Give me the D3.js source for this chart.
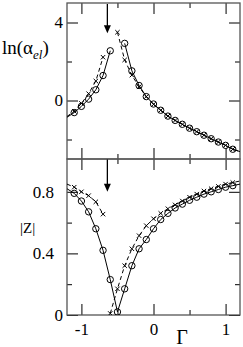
<!DOCTYPE html>
<html>
<head>
<meta charset="utf-8">
<script src="https://cdn.jsdelivr.net/npm/d3@7"></script>
<style>
  body { margin: 0; background: #fff; }
  svg text { font-family: "Liberation Serif", "Times New Roman", "DejaVu Serif", serif !important; fill: #000; }
</style>
</head>
<body>
<script>
// values (Gamma on x, markers every 0.1, lines run to the frame edge)
var gammaTopCircL = [-1.2, -1.1, -1.0, -0.9, -0.8, -0.7, -0.6];
var lnAlphaCircL  = [-0.86, -0.62, -0.3, 0.07, 0.55, 1.28, 2.55];
var gammaTopCircR = [-0.4, -0.3, -0.2, -0.1, 0, 0.1, 0.2, 0.3, 0.4, 0.5, 0.6, 0.7, 0.8, 0.9, 1.0, 1.1, 1.2];
var lnAlphaCircR  = [2.93, 1.52, 0.77, 0.2, -0.18, -0.5, -0.8, -1.02, -1.22, -1.42, -1.6, -1.78, -1.96, -2.13, -2.3, -2.5, -2.62];
var gammaTopCrossL = [-1.2, -1.1, -1.0, -0.9, -0.8, -0.7];
var lnAlphaCrossL  = [-0.82, -0.55, -0.15, 0.35, 1.0, 2.22];
var gammaTopCrossR = [-0.5, -0.4, -0.3, -0.2, -0.1, 0, 0.1, 0.2, 0.3, 0.4, 0.5, 0.6, 0.7, 0.8, 0.9, 1.0, 1.1, 1.2];
var lnAlphaCrossR  = [3.5, 2.08, 1.3, 0.7, 0.2, -0.2, -0.5, -0.8, -1.02, -1.22, -1.42, -1.6, -1.78, -1.96, -2.13, -2.3, -2.5, -2.62];

var gammaBotCirc = [-1.2, -1.1, -1.0, -0.9, -0.8, -0.7, -0.6, -0.5, -0.4, -0.3, -0.2, -0.1, 0, 0.1, 0.2, 0.3, 0.4, 0.5, 0.6, 0.7, 0.8, 0.9, 1.0, 1.1, 1.2];
var zCirc        = [0.82, 0.79, 0.74, 0.67, 0.56, 0.42, 0.23, 0.02, 0.17, 0.32, 0.43, 0.49, 0.56, 0.62, 0.66, 0.695, 0.72, 0.745, 0.765, 0.785, 0.8, 0.815, 0.83, 0.84, 0.85];
var gammaBotCrossL = [-1.2, -1.1, -1.0, -0.9, -0.8, -0.7];
var zCrossL        = [0.85, 0.83, 0.8, 0.775, 0.735, 0.655];
var gammaBotCrossR = [-0.6, -0.5, -0.4, -0.3, -0.2, -0.1, 0, 0.1, 0.2, 0.3, 0.4, 0.5, 0.6, 0.7, 0.8, 0.9, 1.0, 1.1, 1.2];
var zCrossR        = [0.01, 0.17, 0.32, 0.43, 0.515, 0.58, 0.625, 0.66, 0.69, 0.715, 0.74, 0.765, 0.785, 0.805, 0.82, 0.835, 0.85, 0.86, 0.87];

var xMajor = [-1, 0, 1], xMinor = [-0.5, 0.5];
var topMajor = [4, 0], topMinor = [2, -2];
var botMajor = [0.8, 0.4, 0], botMinor = [0.6, 0.2];
var arrowGamma = -0.64;
var arrowTop = [4.95, 3.45], arrowBot = [1.01, 0.8];

var serif = "Liberation Serif, Times New Roman, serif";
var width = 243, height = 347;
var svg = d3.select("body").append("svg")
    .attr("width", width)
    .attr("height", height)
    .attr("font-family", serif);

var x = d3.scaleLinear().domain([-1.2, 1.2]).range([67, 240]);
var yTop = d3.scaleLinear().domain([-3, 5]).range([159, 3]);
var yBot = d3.scaleLinear().domain([0, 1.013]).range([315, 159]);

function zip(a, b) { return a.map(function(d, i) { return [d, b[i]]; }); }

// clip to each panel
var defs = svg.append("defs");
defs.append("clipPath").attr("id", "clipTop").append("rect")
    .attr("x", 67).attr("y", 3).attr("width", 173).attr("height", 156);
defs.append("clipPath").attr("id", "clipBot").append("rect")
    .attr("x", 67).attr("y", 159).attr("width", 173).attr("height", 156);

// ticks, all pointing into the frame
function ticks(y, top, bottom, yMajor, yMinor, labelX) {
  var g = svg.append("g");
  var lx = function(vals, size) {
    g.append("g").attr("transform", "translate(0," + top + ")")
      .call(d3.axisTop(x).tickValues(vals).tickSize(-size).tickFormat(""));
    g.append("g").attr("transform", "translate(0," + bottom + ")")
      .call(d3.axisBottom(x).tickValues(vals).tickSize(-size).tickFormat(""));
  };
  lx(xMajor, 11); lx(xMinor, 5);
  var ly = function(vals, size, fmt) {
    g.append("g").attr("transform", "translate(67,0)")
      .call(d3.axisLeft(y).tickValues(vals).tickSize(-size).tickPadding(4).tickFormat(fmt));
    g.append("g").attr("transform", "translate(240,0)")
      .call(d3.axisRight(y).tickValues(vals).tickSize(-size).tickFormat(""));
  };
  ly(yMajor, 11, function(d) { return String(d); });
  ly(yMinor, 5, "");
  g.selectAll(".domain").remove();
  g.selectAll("g").attr("font-family", serif).attr("font-size", 17);
  g.selectAll(".tick line").attr("stroke", "#000").attr("stroke-width", 1);
  g.selectAll(".tick text")
      .attr("x", function(d) { return String(d).indexOf(".") >= 0 ? labelX - 9 : labelX; });
  return g;
}

ticks(yTop, 3, 159, topMajor, topMinor, -4);
ticks(yBot, 159, 315, botMajor, botMinor, -4);

// bottom x tick labels
svg.append("g").attr("transform", "translate(0,315)")
  .call(d3.axisBottom(x).tickValues(xMajor).tickSize(0).tickPadding(8)
        .tickFormat(function(d) { return String(d); }))
  .attr("font-family", serif).attr("font-size", 17)
  .call(function(g) { g.select(".domain").remove(); });

// frames
[[3, 159], [159, 315]].forEach(function(p) {
  svg.append("rect")
    .attr("x", 67).attr("y", p[0])
    .attr("width", 173).attr("height", p[1] - p[0])
    .attr("fill", "none").attr("stroke", "#555").attr("stroke-width", 1.3);
});

function series(y, clip, data, dashed, marker) {
  var g = svg.append("g").attr("clip-path", "url(#" + clip + ")");
  var line = d3.line().x(function(d) { return x(d[0]); }).y(function(d) { return y(d[1]); });
  g.append("path").datum(data)
    .attr("d", line)
    .attr("fill", "none").attr("stroke", "#000").attr("stroke-width", 1)
    .attr("stroke-dasharray", dashed ? "4,3" : null);
  var pts = data.filter(function(d) { return Math.abs(d[0]) < 1.15; });
  if (marker == "circle") {
    g.selectAll("circle").data(pts).enter().append("circle")
      .attr("cx", function(d) { return x(d[0]); })
      .attr("cy", function(d) { return y(d[1]); })
      .attr("r", 3.2)
      .attr("fill", "none").attr("stroke", "#000").attr("stroke-width", 1);
  } else {
    g.selectAll("path.x").data(pts).enter().append("path")
      .attr("class", "x")
      .attr("transform", function(d) { return "translate(" + x(d[0]) + "," + y(d[1]) + ")"; })
      .attr("d", "M-2.2,-2.2L2.2,2.2M-2.2,2.2L2.2,-2.2")
      .attr("stroke", "#000").attr("stroke-width", 1);
  }
}

series(yTop, "clipTop", zip(gammaTopCircL, lnAlphaCircL), false, "circle");
series(yTop, "clipTop", zip(gammaTopCircR, lnAlphaCircR), false, "circle");
series(yTop, "clipTop", zip(gammaTopCrossL, lnAlphaCrossL), true, "cross");
series(yTop, "clipTop", zip(gammaTopCrossR, lnAlphaCrossR), true, "cross");
series(yBot, "clipBot", zip(gammaBotCirc, zCirc), false, "circle");
series(yBot, "clipBot", zip(gammaBotCrossL, zCrossL), true, "cross");
series(yBot, "clipBot", zip(gammaBotCrossR, zCrossR), true, "cross");

// arrows
function arrow(y, ends) {
  var ax = x(arrowGamma), y0 = y(ends[0]), y1 = y(ends[1]);
  svg.append("line").attr("x1", ax).attr("x2", ax).attr("y1", y0).attr("y2", y1 - 6)
    .attr("stroke", "#000").attr("stroke-width", 1.3);
  svg.append("path")
    .attr("d", "M" + (ax - 3.5) + "," + (y1 - 8) + "L" + (ax + 3.5) + "," + (y1 - 8) + "L" + ax + "," + y1 + "Z")
    .attr("fill", "#000");
}
arrow(yTop, arrowTop);
arrow(yBot, arrowBot);

// axis titles
var t = svg.append("text")
    .attr("x", 2).attr("y", 54)
    .attr("font-size", 19);
t.append("tspan").text("ln(\u03b1");
t.append("tspan").attr("dy", 5).attr("font-size", 13).attr("font-style", "italic").text("el");
t.append("tspan").attr("dy", -5).text(")");

svg.append("text").attr("x", 20).attr("y", 233)
    .attr("font-size", 15).text("|Z|");

svg.append("text").attr("x", 182).attr("y", 344)
    .attr("text-anchor", "middle")
    .attr("font-size", 20).text("\u0393");
</script>
</body>
</html>
